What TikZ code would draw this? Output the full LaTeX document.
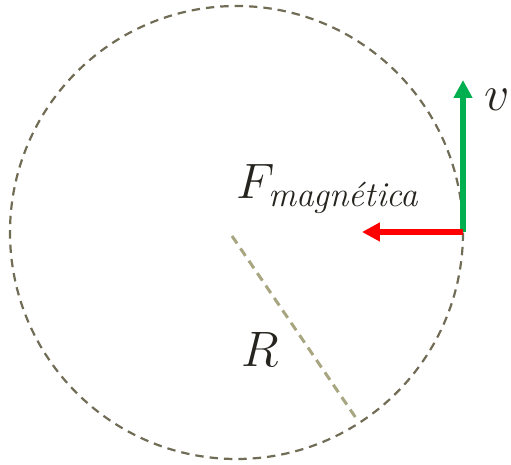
\documentclass[tikz,border=0pt]{standalone}
\usepackage{amsmath}
\usetikzlibrary{arrows.meta, positioning}
\definecolor{orbitGray}{RGB}{112,108,86}
\definecolor{radiusTan}{RGB}{168,166,128}
\definecolor{velGreen} {RGB}{  0,176, 80}
\definecolor{forceRed} {RGB}{255,  0,  0}
\definecolor{inkDark}  {RGB}{ 38, 36, 30}

\begin{document}
\begin{tikzpicture}[
  x=0.5pt, y=-0.5pt,
  orbit/.style={draw=orbitGray, line width=1.1pt, dash pattern=on 4.2pt off 3pt},
  radial/.style={draw=radiusTan, line width=1.5pt, dash pattern=on 4.5pt off 3pt},
  vec/.style={line width=2.8pt, -{Triangle[length=9pt, width=9pt]}},
  lbl/.style={inner sep=0pt, text=inkDark, font=\fontsize{25}{30}\selectfont},
]
\useasboundingbox (0,0) rectangle (511,465);

%% Orbit and radius
\coordinate (O) at (236.5,232.5);
\draw[orbit] (O) circle [radius=226.5];
\coordinate (Rs) at (232,236);
\coordinate (Re) at (358,421);
\draw[radial] (Rs) -- (Re);

%% Vectors at the particle
\coordinate (P)  at (463,232);
\coordinate (Vt) at (463,80);
\coordinate (Ft) at (362,232);
\draw[vec, velGreen] (P) -- (Vt);
\draw[vec, forceRed] (P) -- (Ft);

%% Labels
\node[lbl] (v) at (497,100) {$v$};
\node[lbl] (F) at (328,189) {$F_{\textit{magnética}}$};
\node[lbl] (R) at (260,350) {$R$};
\end{tikzpicture}
\end{document}
